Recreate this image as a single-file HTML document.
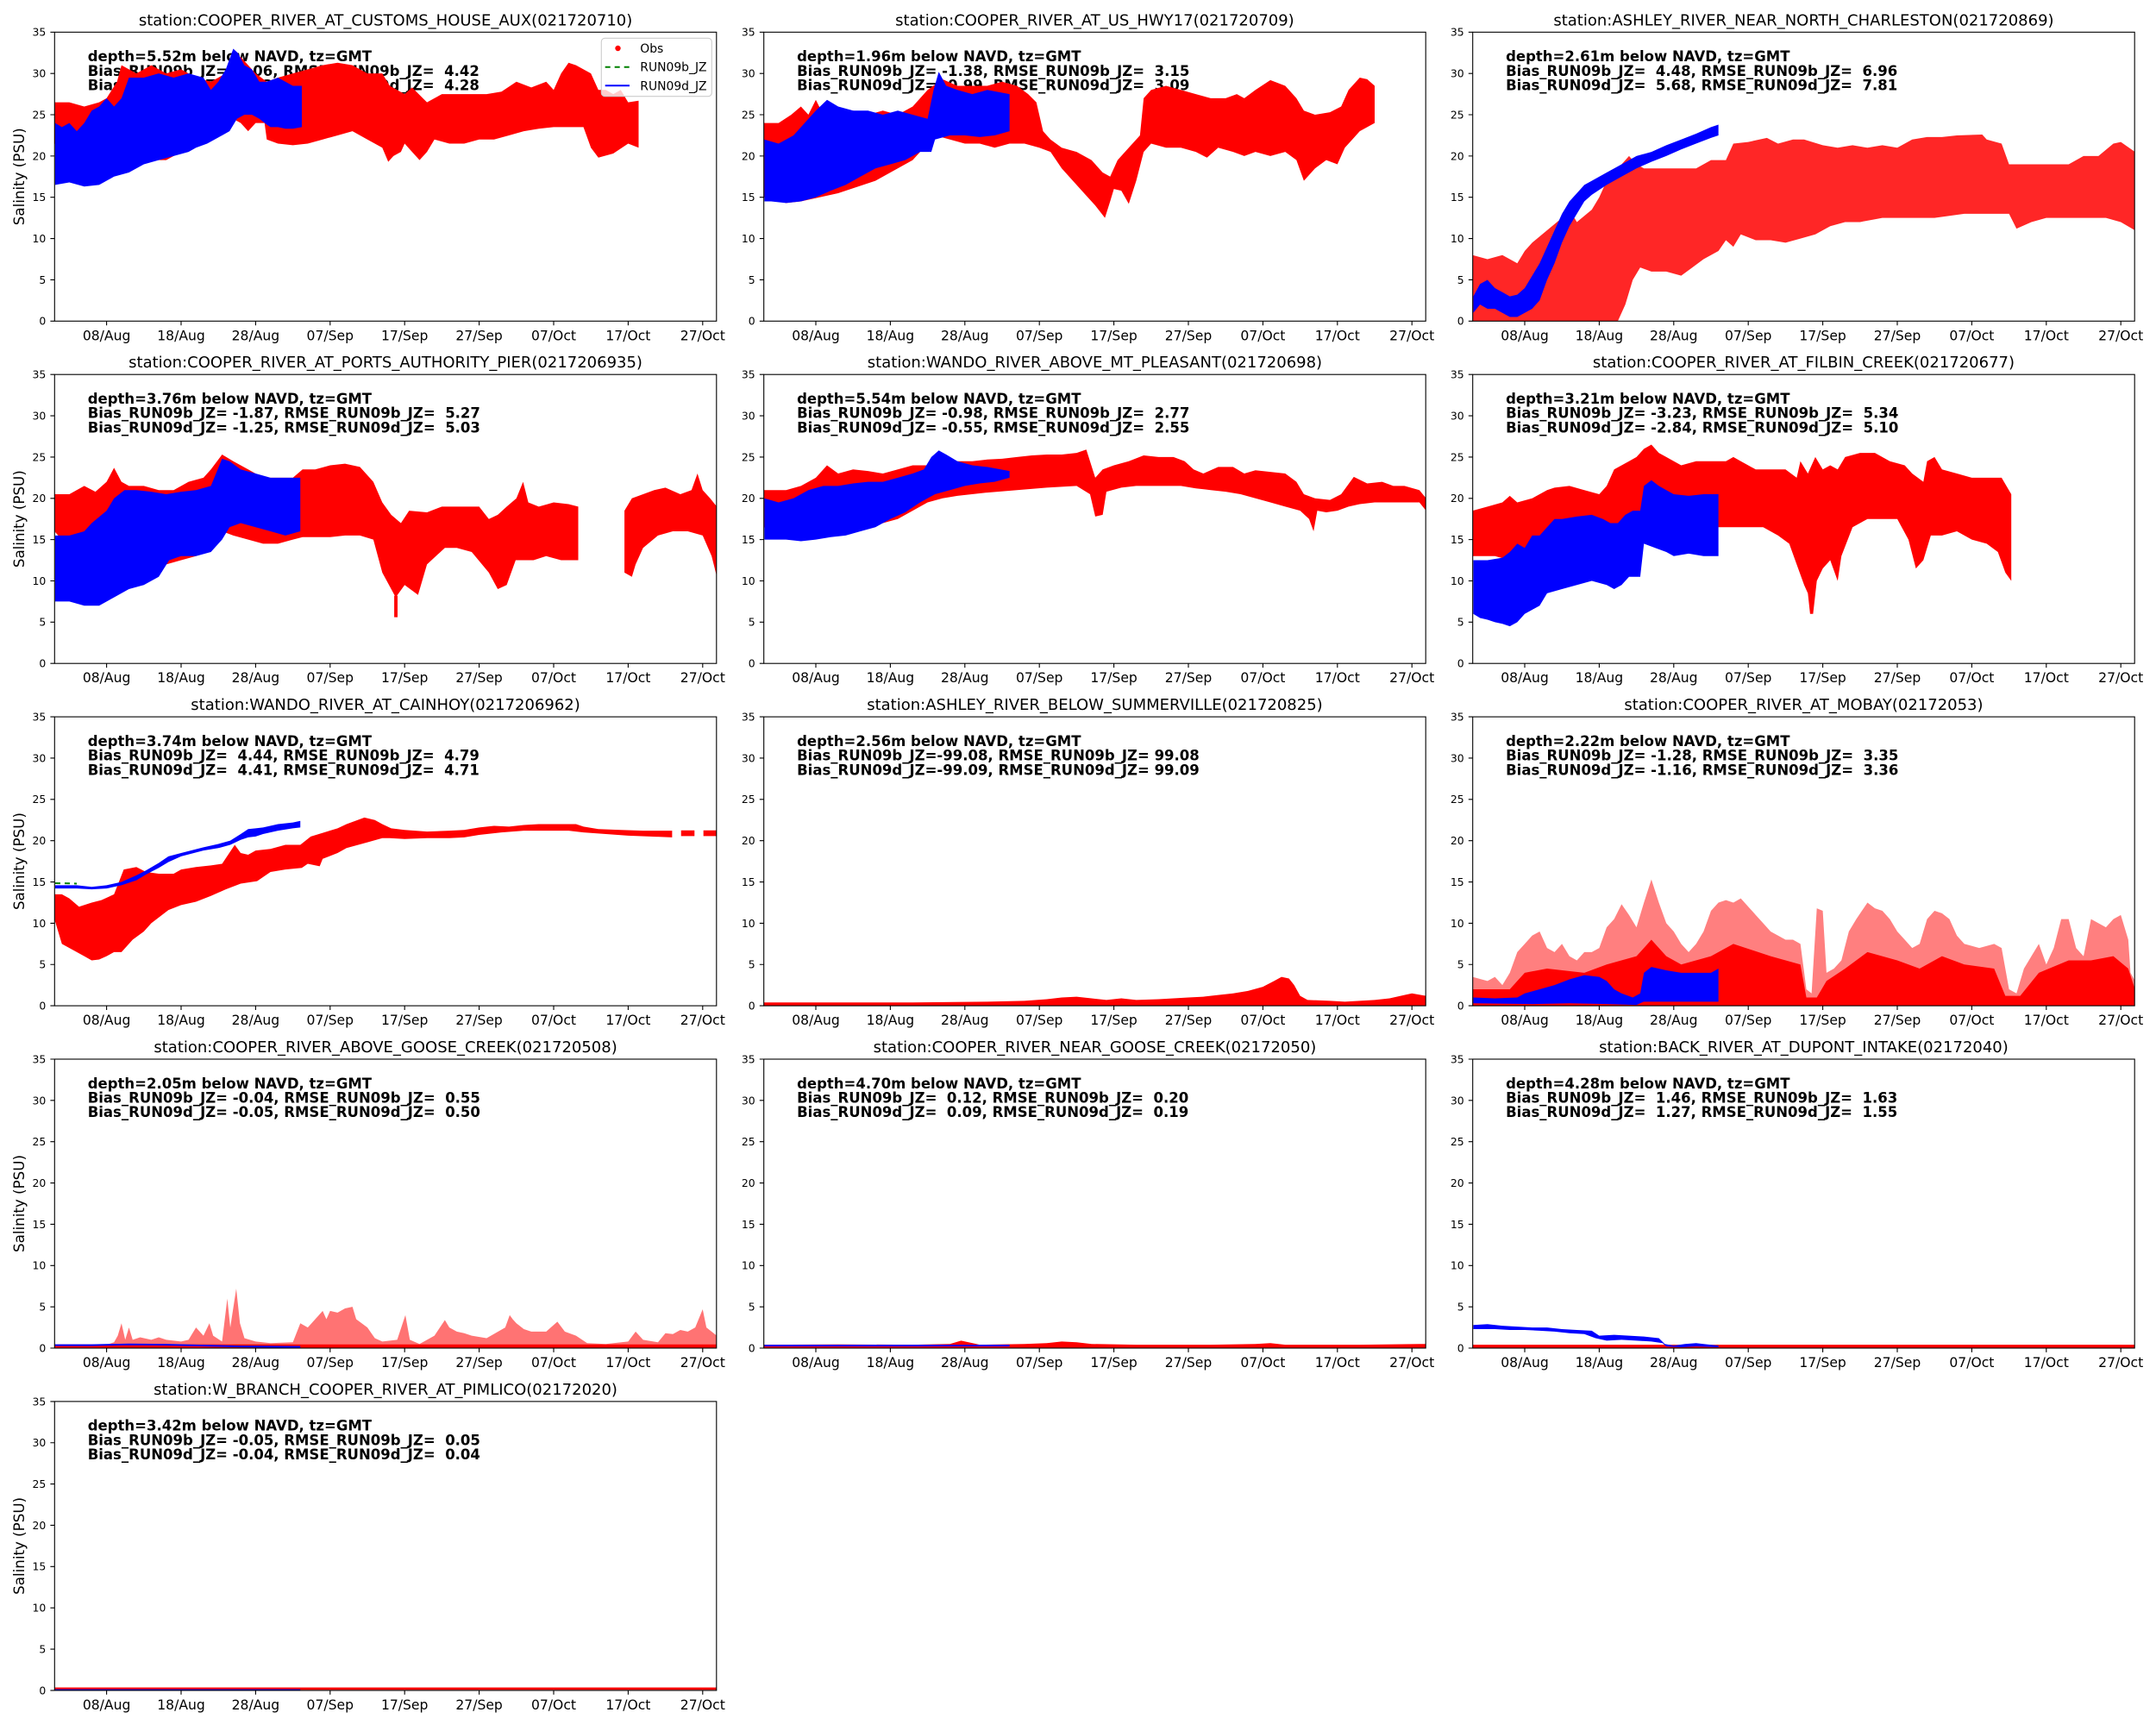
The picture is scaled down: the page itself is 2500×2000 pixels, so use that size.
<!DOCTYPE html>
<html><head><meta charset="utf-8">
<style>
html,body{margin:0;padding:0;background:#fff;}
svg{display:block;}
text{font-family:"DejaVu Sans","Liberation Sans",sans-serif;fill:#000;}
.o{fill:#ff0000;}
.b{fill:#0000ff;}
.bs{fill:#0000ff;}
.ax{fill:none;stroke:#000;stroke-width:1.1;}
.tk{fill:none;stroke:#000;stroke-width:1.1;}
.yt{font-size:12.4px;text-anchor:end;}
.xt{font-size:15.6px;text-anchor:middle;}
.ti{font-size:18px;text-anchor:middle;}
.an{font-size:16.5px;font-weight:bold;white-space:pre;}
.yl{font-size:16.7px;text-anchor:middle;}
.ln{fill:none;stroke:#0000ff;stroke-width:2;vector-effect:non-scaling-stroke;}
.gd{fill:none;stroke:#008000;stroke-width:2;stroke-dasharray:6,5;vector-effect:non-scaling-stroke;}
</style></head>
<body>
<svg xmlns="http://www.w3.org/2000/svg" width="2500" height="2000" viewBox="0 0 2500 2000">
<defs>
<clipPath id="k1"><rect x="63.3" y="37.3" width="767.5" height="335"/></clipPath>
<clipPath id="k2"><rect x="885.7" y="37.3" width="767.5" height="335"/></clipPath>
<clipPath id="k3"><rect x="1707.7" y="37.3" width="767.5" height="335"/></clipPath>
<clipPath id="k4"><rect x="63.3" y="434.2" width="767.5" height="335"/></clipPath>
<clipPath id="k5"><rect x="885.7" y="434.2" width="767.5" height="335"/></clipPath>
<clipPath id="k6"><rect x="1707.7" y="434.2" width="767.5" height="335"/></clipPath>
<clipPath id="k7"><rect x="63.3" y="831.1" width="767.5" height="335"/></clipPath>
<clipPath id="k8"><rect x="885.7" y="831.1" width="767.5" height="335"/></clipPath>
<clipPath id="k9"><rect x="1707.7" y="831.1" width="767.5" height="335"/></clipPath>
<clipPath id="k10"><rect x="63.3" y="1228" width="767.5" height="335"/></clipPath>
<clipPath id="k11"><rect x="885.7" y="1228" width="767.5" height="335"/></clipPath>
<clipPath id="k12"><rect x="1707.7" y="1228" width="767.5" height="335"/></clipPath>
<clipPath id="k13"><rect x="63.3" y="1624.9" width="767.5" height="335"/></clipPath>
</defs>
<rect width="2500" height="2000" fill="#fff"/>

<!-- ===== Annotations (drawn under data) ===== -->
<g transform="translate(63.3,37.3)" class="an">
<text x="38.4" y="33.8" xml:space="preserve">depth=5.52m below NAVD, tz=GMT</text>
<text x="38.4" y="50.5" xml:space="preserve">Bias_RUN09b_JZ=  0.06, RMSE_RUN09b_JZ=  4.42</text>
<text x="38.4" y="67.2" xml:space="preserve">Bias_RUN09d_JZ=  0.53, RMSE_RUN09d_JZ=  4.28</text>
</g>
<g transform="translate(885.7,37.3)" class="an">
<text x="38.4" y="33.8" xml:space="preserve">depth=1.96m below NAVD, tz=GMT</text>
<text x="38.4" y="50.5" xml:space="preserve">Bias_RUN09b_JZ= -1.38, RMSE_RUN09b_JZ=  3.15</text>
<text x="38.4" y="67.2" xml:space="preserve">Bias_RUN09d_JZ= -0.99, RMSE_RUN09d_JZ=  3.09</text>
</g>
<g transform="translate(1707.7,37.3)" class="an">
<text x="38.4" y="33.8" xml:space="preserve">depth=2.61m below NAVD, tz=GMT</text>
<text x="38.4" y="50.5" xml:space="preserve">Bias_RUN09b_JZ=  4.48, RMSE_RUN09b_JZ=  6.96</text>
<text x="38.4" y="67.2" xml:space="preserve">Bias_RUN09d_JZ=  5.68, RMSE_RUN09d_JZ=  7.81</text>
</g>
<g transform="translate(63.3,434.2)" class="an">
<text x="38.4" y="33.8" xml:space="preserve">depth=3.76m below NAVD, tz=GMT</text>
<text x="38.4" y="50.5" xml:space="preserve">Bias_RUN09b_JZ= -1.87, RMSE_RUN09b_JZ=  5.27</text>
<text x="38.4" y="67.2" xml:space="preserve">Bias_RUN09d_JZ= -1.25, RMSE_RUN09d_JZ=  5.03</text>
</g>
<g transform="translate(885.7,434.2)" class="an">
<text x="38.4" y="33.8" xml:space="preserve">depth=5.54m below NAVD, tz=GMT</text>
<text x="38.4" y="50.5" xml:space="preserve">Bias_RUN09b_JZ= -0.98, RMSE_RUN09b_JZ=  2.77</text>
<text x="38.4" y="67.2" xml:space="preserve">Bias_RUN09d_JZ= -0.55, RMSE_RUN09d_JZ=  2.55</text>
</g>
<g transform="translate(1707.7,434.2)" class="an">
<text x="38.4" y="33.8" xml:space="preserve">depth=3.21m below NAVD, tz=GMT</text>
<text x="38.4" y="50.5" xml:space="preserve">Bias_RUN09b_JZ= -3.23, RMSE_RUN09b_JZ=  5.34</text>
<text x="38.4" y="67.2" xml:space="preserve">Bias_RUN09d_JZ= -2.84, RMSE_RUN09d_JZ=  5.10</text>
</g>
<g transform="translate(63.3,831.1)" class="an">
<text x="38.4" y="33.8" xml:space="preserve">depth=3.74m below NAVD, tz=GMT</text>
<text x="38.4" y="50.5" xml:space="preserve">Bias_RUN09b_JZ=  4.44, RMSE_RUN09b_JZ=  4.79</text>
<text x="38.4" y="67.2" xml:space="preserve">Bias_RUN09d_JZ=  4.41, RMSE_RUN09d_JZ=  4.71</text>
</g>
<g transform="translate(885.7,831.1)" class="an">
<text x="38.4" y="33.8" xml:space="preserve">depth=2.56m below NAVD, tz=GMT</text>
<text x="38.4" y="50.5" xml:space="preserve">Bias_RUN09b_JZ=-99.08, RMSE_RUN09b_JZ= 99.08</text>
<text x="38.4" y="67.2" xml:space="preserve">Bias_RUN09d_JZ=-99.09, RMSE_RUN09d_JZ= 99.09</text>
</g>
<g transform="translate(1707.7,831.1)" class="an">
<text x="38.4" y="33.8" xml:space="preserve">depth=2.22m below NAVD, tz=GMT</text>
<text x="38.4" y="50.5" xml:space="preserve">Bias_RUN09b_JZ= -1.28, RMSE_RUN09b_JZ=  3.35</text>
<text x="38.4" y="67.2" xml:space="preserve">Bias_RUN09d_JZ= -1.16, RMSE_RUN09d_JZ=  3.36</text>
</g>
<g transform="translate(63.3,1228)" class="an">
<text x="38.4" y="33.8" xml:space="preserve">depth=2.05m below NAVD, tz=GMT</text>
<text x="38.4" y="50.5" xml:space="preserve">Bias_RUN09b_JZ= -0.04, RMSE_RUN09b_JZ=  0.55</text>
<text x="38.4" y="67.2" xml:space="preserve">Bias_RUN09d_JZ= -0.05, RMSE_RUN09d_JZ=  0.50</text>
</g>
<g transform="translate(885.7,1228)" class="an">
<text x="38.4" y="33.8" xml:space="preserve">depth=4.70m below NAVD, tz=GMT</text>
<text x="38.4" y="50.5" xml:space="preserve">Bias_RUN09b_JZ=  0.12, RMSE_RUN09b_JZ=  0.20</text>
<text x="38.4" y="67.2" xml:space="preserve">Bias_RUN09d_JZ=  0.09, RMSE_RUN09d_JZ=  0.19</text>
</g>
<g transform="translate(1707.7,1228)" class="an">
<text x="38.4" y="33.8" xml:space="preserve">depth=4.28m below NAVD, tz=GMT</text>
<text x="38.4" y="50.5" xml:space="preserve">Bias_RUN09b_JZ=  1.46, RMSE_RUN09b_JZ=  1.63</text>
<text x="38.4" y="67.2" xml:space="preserve">Bias_RUN09d_JZ=  1.27, RMSE_RUN09d_JZ=  1.55</text>
</g>
<g transform="translate(63.3,1624.9)" class="an">
<text x="38.4" y="33.8" xml:space="preserve">depth=3.42m below NAVD, tz=GMT</text>
<text x="38.4" y="50.5" xml:space="preserve">Bias_RUN09b_JZ= -0.05, RMSE_RUN09b_JZ=  0.05</text>
<text x="38.4" y="67.2" xml:space="preserve">Bias_RUN09d_JZ= -0.04, RMSE_RUN09d_JZ=  0.04</text>
</g>

<!-- ===== DATA ===== -->
<!-- P1 -->
<g clip-path="url(#k1)"><g transform="translate(63.12,372.3) scale(8.64,-9.5714)">
<polygon class="o" points="0,26.5 2,26.5 4,26 6,26.5 7,27 8.4,29 9,31 11,30 13,31 15,30 17,30.5 19,29.5 21,29 23,30 25,32 27,30 28.5,29 30,29.5 32,30 34,30.5 36,31 38,31.3 40,31 42,30 44,30 45,28.5 47,27.5 48,28.3 50,26.5 52,27.5 54,27.5 56,27.5 58,27.5 60,27.8 62,29 64,28.3 66,29 67,28 68,30 69,31.3 70,31 71,30.5 72,30 73,28 74,28 75,27.5 76,28 77,26.5 78.4,26.7 78.4,21 77,21.5 75,20.3 73,19.8 72,21 71,23.5 69,23.5 67,23.5 65,23.3 63,23 61,22.5 59,22 57,22 55,21.5 53,21.5 51,22 50,20.5 49,19.5 48,20.5 47,21.5 46.5,20.5 45.5,20 44.8,19.3 44,21 42,22 40,23 38,22.5 36,22 34,21.5 32,21.3 30,21.5 28.5,22 28.2,24 27,24 26,23 25,24 23,25 22,24.5 21,23 19,22 17,20.5 15,19.5 13,19.5 11,20 9,19 8,20 6,20.5 4,20.5 2,21 0,21.5"/>
<polygon class="b" points="0.1,24 1,23.5 2,24 3,23 4,24 5,25.5 6,26 7,27 8,26 9,27 10,29.5 12,29.5 14,30 16,29.5 18,30 20,29.5 21,28 22,29 23,30.5 24,33 24.6,32.5 25.5,31 26.5,30.5 27.5,29 28.5,29 30,29.5 31,29 32,28.5 33.2,28.5 33.2,23.5 32,23.3 31,23.3 30,23.5 29,23.5 28.5,23.8 27.5,24.5 26.5,25 25.5,25 24.5,24.5 23.5,23 22.5,22.5 21.5,22 20.5,21.5 19,21 18,20.5 16,20 14,19.5 12,19 10,18 8,17.5 6,16.5 4,16.3 2,16.8 0.1,16.5"/>
</g></g>
<!-- P2 -->
<g clip-path="url(#k2)"><g transform="translate(885.52,372.3) scale(8.64,-9.5714)">
<polygon class="o" points="0,24 2,24 3.7,25 5,26 6,25 7,26.8 8,25 10,25.5 12,25.5 14,25 16,25.5 18,25 20,26 22,28 24,29.3 26,28.5 28,28.5 30,28.5 32,29 34,28.5 35.5,27.5 36.6,26.5 37.5,23 38.5,22 40,21 42,20.5 44,19.5 45.5,18 46.5,17.5 47.5,19.5 49,21 50.5,22.5 51,27 52,28 54,28.5 56,28 58,27.5 60,27 62,27 63.5,27.5 64.5,27 66,28 68,29.2 70,28.5 71.5,27 72.5,25.5 74,25 76,25.3 77.5,26 78.5,28 80,29.5 81,29.3 82,28.5 82,24 80,23 79,22 78,21 77,19 75.5,19.5 74,18.5 72.5,17 71.5,19.5 70,20.5 68,20 66,20.5 64.5,20 63,20.5 61,21 59.5,19.8 58,20.5 56,21 54,21 52,21.5 51,20.5 50,17 49,14.2 48,15.8 47,16 46.5,14.5 45.8,12.5 44.5,14 43,15.5 41.5,17 40,18.5 38.5,20.5 37,21 35,21.5 33,21.5 31,21 29,21.5 27,21.5 25,22 23,22.5 20,19.5 15,17 10,15.5 5,14.5 3,14.3 0,15"/>
<polygon class="b" points="0.1,22 2,21.5 4,22.5 5.5,24 7,25.5 8.5,26.8 10,26 12,25.5 14,25.5 16,25 18,25.5 20,25 22,24.5 22.8,28 23.5,30.2 24.5,28.5 26,28 28,27.5 30,28 33,27.5 33,23 31,22.5 29,22.3 27,22.5 25,22.5 23,22 22.5,20.5 21,20.5 19,19.5 17,19 15,18.5 13,17.5 11,16.5 9,15.8 7,15 5,14.5 3,14.3 1,14.5 0.1,14.5"/>
</g></g>
<!-- P3 -->
<g clip-path="url(#k3)"><g transform="translate(1707.52,372.3) scale(8.64,-9.5714)">
<polygon class="o" fill-opacity="0.85" points="0,8 2,7.5 4,8 6,7 7,8.5 8,9.5 10,11 12,12.5 13,13.5 14,12 16,13.5 17,15 18,17 19,17.5 20,19 21,20 22,19 23,18.5 24,18.5 26,18.5 28,18.5 30,18.5 32,19.5 34,19.5 35,21.5 37,21.7 39.5,22.2 41,21.5 43,22 44.5,22 47,21.3 49,21 51,21.3 53,21 55,21.3 57,21 59,22 61,22.3 63,22.3 65,22.5 68.4,22.6 69,22 71,21.5 72,19 74,19 76,19 78,19 80,19 82,20 84,20 86,21.5 87,21.7 88.9,20.5 88.9,11 87,12 85,12.5 83,12.5 81,12.5 79,12.5 77,12.5 75,12 73,11.2 72,13 70,13 66,13 62,12.5 58,12.5 55,12.5 52,12 50,12 48,11.5 46,10.5 44,10 42,9.5 40,9.8 38,9.8 36,10.5 35,9 34,9.8 33,8.5 31,7.5 29.5,6.5 28,5.5 26,6 24,6 22.5,6.5 21.5,5 20.5,2 19.5,0 0,0"/>
<polygon class="b" points="0.1,3 1,4.5 2,5 3,4 4,3.5 5,3 6,3.2 7,4 8,5.5 9,7 10,9 11,11 12,13 13,14.5 14,15.5 15,16.5 16,17 18,18 20,19 22,20 24,20.5 26,21.3 28,22 30,22.7 32,23.5 33,23.8 33,22.5 32,22.2 30,21.5 28,20.8 26,20 24,19.3 22,18.5 20,17.5 18,16.5 16,15.3 15,14.5 14,13 13,11.5 12,9.5 11,7 10,5 9,2.5 8,1.5 7,1 6,0.5 5,0.5 4,1 3,1.5 2,1.5 1,2 0.1,1"/>
</g></g>
<!-- P4 -->
<g clip-path="url(#k4)"><g transform="translate(63.12,769.2) scale(8.64,-9.5714)">
<polygon class="o" points="0,20.5 2,20.5 4,21.5 5.5,20.8 7,22 8,23.7 9,22 10,21.5 12,21.5 14,21 16,21 18,22 20,22.5 21,23.5 22.5,25.3 24,24.5 26,23.5 28,22.5 30,22.5 32,22.5 33.3,23.5 35,23.5 37,24 39,24.2 41,23.8 42.8,22 44,19.5 45.2,18 46.5,17 47.6,18.5 50,18.3 52,19 55,19 57,19 58.3,17.5 59.5,18 60.7,19 62,20 62.9,22 63.6,19.5 65,19 67,19.5 69,19.3 70.3,19 70.3,12.5 68,12.5 66,13 64.3,12.5 62.5,12.5 61.9,12.5 60.7,9.5 59.5,9 58.3,11 56,13.5 54,14 52.4,14 50,12 48.8,8.3 47,9.5 45.8,8 45.2,9 44,11 42.8,15 41,15.5 39,15.5 37,15.3 35,15.3 33.3,15.3 32,15 30,14.5 28,14.5 26,15 24,15.5 22.5,16 21,14 19,13 17,12.5 15,12 13,12 11,12.5 9,12.5 7,13.5 5,14 3,15 1,15 0,16"/>
<rect class="o" x="45.6" y="5.6" width="0.45" height="2.6"/>
<polygon class="o" points="76.5,18.5 77.5,20 79,20.5 80.5,21 82,21.3 84,20.5 85.5,21 86.3,23 87,21 88,20 88.9,19 88.9,10.5 88.2,13 87,15.5 85,16 83,16 81,15.5 79,14 78,12 77.5,10.5 76.5,11"/>
<polygon class="b" points="0.1,15.5 2,15.5 4,16 5,17 7,18.5 8,20 9.4,21 11,21 13,20.8 15,20.5 17,20.8 19,21 21,21.5 22.5,24.8 23.5,24.5 25,23.5 27,23 29,22.5 31,22.5 33,22.5 33,16 31,15.5 29,16 27,16.5 25,17 23.5,16.5 22.5,15 21,13.5 19,13 17,13 15.4,12.5 14,10.5 12,9.5 10,9 8,8 6,7 4,7 2,7.5 0.1,7.5"/>
</g></g>
<!-- P5 -->
<g clip-path="url(#k5)"><g transform="translate(885.52,769.2) scale(8.64,-9.5714)">
<polygon class="o" points="0,21 3,21 5,21.5 7,22.5 8.5,24 10,23 12,23.5 14,23.3 16,23 18,23.5 20,24 22,24 24,24.3 26,24.5 28,24.5 30,24.7 32,24.8 34,25 36,25.2 38,25.3 40,25.3 42,25.5 43.3,25.9 44.5,22.5 45.5,23.5 47,24 49,24.5 51,25.2 53,25 55,25 56.5,24.5 57.7,23.5 59,23 61,23.8 63,23.8 64.5,23 66,23.4 68,23.2 70,23 71.5,22 72.5,20.5 74,20 76,19.8 77.5,20.5 79.2,22.6 81,21.8 83,22 84.5,21.5 86,21.5 88,21 88.9,20 88.9,18.5 88,19.5 86,19.5 84,19.5 82,19.5 80,19.3 78.5,19 77,18.5 75.5,18.3 74.3,18.5 73.8,16 73.2,17.5 72,18.5 70,19 68,19.5 66,20 64,20.5 62,20.8 60,21 58,21.2 56,21.5 54,21.5 52,21.5 50,21.5 48,21.3 46,20.8 45.5,18 44.5,17.8 43.8,20.5 42,21.5 38,21.3 34,21 30,20.7 26,20.3 24,20 22,19.5 20,18.5 18,17.5 16,17 14,16.5 12,16 10,15.5 8,15.3 6,15.5 4,16 2,16 0,16.5"/>
<polygon class="b" points="0.1,20 2,19.5 4,20 6,21 8,21.5 10,21.5 12,21.8 14,22 16,22 18,22.5 20,23 21.5,23.5 22.5,25 23.5,25.8 24.5,25.3 26,24.5 28,24 30,23.8 33,23.3 33,22.5 31,22 29,21.8 27,21.5 25,21 23,20.5 21,19.5 19,18.3 17,17.5 15,16.5 13,16 11,15.5 9,15.3 7,15 5,14.8 3,15 0.1,15"/>
</g></g>
<!-- P6 -->
<g clip-path="url(#k6)"><g transform="translate(1707.52,769.2) scale(8.64,-9.5714)">
<polygon class="o" points="0,18.5 2,19 4,19.5 5,20.3 6,19.5 8,20 10,21 11,21.3 13,21.5 15,21 17,20.5 18,21.5 19,23.5 20,24 21,24.5 22,25 23,26 24,26.5 25,25.5 26,25 28,24 30,24.5 32,24.5 34,24.5 35,25 36,24.5 38,23.5 40,23.5 42,23.5 43.5,22.5 44,24.5 45,23 46,25 47,23.5 48,24 49,23.5 50,25 52,25.5 54,25.5 56,24.5 58,24 59,23 60.5,22 61,24.5 62,25 63,23.5 65,23 67,22.5 69,22.5 71,22.5 72.3,20.5 72.3,10 71.5,11 70.5,13.5 69,14.5 67,15 65,16 63,15.5 61.5,15.5 60.5,12.5 59.5,11.5 58.5,15 57,17.5 55,17.5 53,17.5 51,16.5 49.5,13 49,10 48,12.5 47,11.5 46.2,10 45.7,6 45.3,6 45,8.5 44.5,9.5 43.5,12 42.5,14.5 41,15.5 39,16.5 37,16.5 35,16.5 33,16.5 31,16.5 29,16.3 27,16 25,15.5 23,15 21,13.5 19,12.5 17,12 15,11.5 13,11 11,11 9,11.5 7,12 5,12.5 3,13 0,13"/>
<polygon class="b" points="0.1,12.5 2,12.5 4,12.8 5,13.5 6,14.5 7,14 8,15.5 9,15.5 10,16.5 11,17.5 12,17.5 14,17.8 16,18 17.5,17.5 18.5,17 19.5,17 20.5,18 21.5,18.5 22.5,18.5 23,21.5 24,22.2 25,21.5 26,21 27,20.5 29,20.3 31,20.5 33,20.5 33,13 31,13 29,13.3 27,13 26,13.5 24.5,14 23,14.5 22.5,10.5 21,10.5 20,9.5 19,9 18,9.5 16,10 14,9.5 12,9 10,8.5 9,7 8,6.5 7,6 6,5 5,4.5 4,4.8 3,5 2,5.3 1,5.5 0.1,6"/>
</g></g>
<!-- P7 -->
<g clip-path="url(#k7)"><g transform="translate(63.12,1166.1) scale(8.64,-9.5714)">
<polygon class="o" points="0,13.5 1,13.5 2,13 3.3,12 5,12.5 6.3,12.8 8,13.5 9.3,16.5 11,16.8 12.3,16.2 14,16 16,16 17,16.5 19,16.8 21,17 22.5,17.2 24.2,19.5 25,18.5 26,18.3 27,18.8 29,19 31,19.5 33,19.5 34.4,20.5 36.2,21 38,21.5 39.2,22 41.6,22.8 43,22.5 44,22 45.2,21.5 47,21.3 50,21.1 53,21.2 55,21.3 57,21.6 59,21.8 61,21.7 63,21.9 65,22 67,22 69,22 70,22 71,21.7 73,21.4 76,21.3 79,21.2 81,21.2 82.9,21.2 82.9,20.4 80,20.5 77,20.6 74,20.8 71,21 69,21.2 66,21.2 63,21.2 60,21 57,20.7 55,20.4 53,20.3 50,20.3 47,20.2 45,20.3 44,20.3 42,19.8 39.2,19.1 38,18.5 36,17.8 35.6,16.9 34,17.2 33.2,16.7 31,16.5 29,16.2 27.2,15.1 25,14.8 23,14.1 21,13.3 19,12.6 17,12.2 15.3,11.6 13,10 12,9 10.5,8 9,6.5 8,6.5 7,6 6,5.6 5,5.5 4,6 3,6.5 2,7 1,7.5 0,10.5"/>
<polygon class="o" points="84.1,20.55 85.9,20.55 85.9,21.25 84.1,21.25"/>
<polygon class="o" points="87.1,20.55 89,20.55 89,21.25 87.1,21.25"/>
<polyline class="gd" points="0.1,14.85 3,14.8"/>
<polygon class="bs" points="0.1,14.6 3,14.6 5,14.4 7,14.6 9,15 11,15.8 12.3,16.4 14,17.3 15.3,18.1 17,18.5 20,19.2 22,19.6 23.6,20 25,20.8 26,21.4 27,21.5 28,21.6 30,22 32,22.2 33,22.4 33,21.6 32,21.5 30,21.2 28,20.8 27,20.5 26,20.4 25,20.1 23.6,19.5 22,19.1 20,18.8 17,18.1 15.3,17.4 14,16.7 12.3,15.9 11,15.2 9,14.6 7,14.2 5,14.1 3,14.2 0.1,14.2"/>
</g></g>
<!-- P8 -->
<g clip-path="url(#k8)"><g transform="translate(885.52,1166.1) scale(8.64,-9.5714)">
<polygon class="o" points="0,0.4 10,0.4 20,0.4 30,0.5 35,0.6 38,0.8 40,1.0 42,1.1 44,0.9 46,0.7 48,0.9 50,0.7 53,0.8 55,0.9 57,1.0 59,1.1 61,1.3 63,1.5 65,1.8 67,2.3 68.5,3.0 69.5,3.5 70.5,3.3 71.2,2.5 72,1.2 73,0.7 76,0.6 78,0.5 80,0.6 82,0.7 84,0.9 86,1.3 87,1.5 88.9,1.2 88.9,0 0,0"/>
</g></g>
<!-- P9 -->
<g clip-path="url(#k9)"><g transform="translate(1707.52,1166.1) scale(8.64,-9.5714)">
<polygon class="o" fill-opacity="0.5" points="0,3.5 2,3 3,3.5 4,2.5 5,4 6,6.5 7,7.5 8,8.5 9,9 10,7 11,6.5 12,7.5 13,6 14,5.5 15,6.5 16,6.5 17,7 18,9.5 19,10.5 20,12.3 21,11 22,9.5 23,12.5 24,15.3 25,12.5 26,10 27,9 28,7.5 29,6.5 30,7.5 31,9 32,11.5 33,12.5 34,12.8 35,12.5 36,13 37,12 38,11 39,10 40,9 41,8.5 42,8 43,8 44,7.5 44.8,2 45.5,1.5 46.2,11.8 47,11.5 47.5,4 48.5,4.5 49.5,5.5 50.5,9 51.5,10.5 53,12.5 54,11.8 55,11.5 56,10.5 57,9 58,8 59,7 60,7.5 61,10.5 62,11.5 63,11.2 64,10.5 65,8.5 66,7.5 68,7 70,7.5 71,7 72,2 73,1.5 74,4.5 75,6 76,7.5 77,5 78,7 79,10.5 80,10.5 81,7 82,6 83,10.5 84,10 85,9.5 86,10.5 87,11 88,8 88.3,4 88.9,3 88.9,0 0,0"/>
<polygon class="o" points="0,2 5,2 7,4 10,4.5 15,4 18,5 22,6 24,8 26,6 28,5 32,6 35,7.5 40,6 44,5 44.8,1 46.2,1 47.5,3 50,4.5 53,6.5 57,5.5 60,4.5 63,6 66,5 70,4.5 71.5,1.2 73.5,1.2 76,4 80,5.5 83,5.5 86,6 88,4.5 88.9,2 88.9,0 0,0"/>
<polygon class="b" points="0.1,1 3,0.9 6,1 7,1.5 9,2 11,2.5 13,3.2 15,3.7 17,3.5 18,3 19,2 20,1.5 21.5,1 22.5,1.5 23,4 24,4.7 26,4.3 28,4 30,4 32,4 33,4.5 33,0.5 28,0.5 23,0.5 22,0.1 18,0.2 13,0.3 8,0.2 0.1,0.3"/>
</g></g>
<!-- P10 -->
<g clip-path="url(#k10)"><g transform="translate(63.12,1563) scale(8.64,-9.5714)">
<polygon class="o" fill-opacity="0.55" points="0,0.4 7,0.4 8,0.7 8.5,1.5 9,3 9.5,1 10,2.5 10.5,1 11.5,1.3 13,1 14,1.3 15,1 17,0.8 18,1 19,2.5 20,1.5 20.8,3 21.3,1.5 22.5,0.8 23.2,6 23.6,2.5 24.4,7.2 24.9,3 25.5,1.2 27,0.8 29,0.6 32,0.7 33,3 34,2.5 35,3.5 36,4.5 36.5,3.5 37,4.5 38,4.3 39,4.8 40,5 40.5,3.5 42,2.5 43,1.2 44,0.8 46,1 47.1,4 47.7,1 49,0.5 51,1.5 52.4,3.4 53,2.5 54,2 55,1.8 56,1.5 58,1.2 60.5,2.5 61.1,4 61.5,3.5 62,3 63,2.3 64,2 66,2 67.5,3.2 68.5,2 70,1.5 71.5,0.6 74,0.5 77,0.8 78,2 79,1 81,0.7 82,1.8 83,1.7 84,2.2 85,2 86,2.5 87,4.7 87.5,2.5 88.9,1.5 88.9,0 0,0"/>
<polygon class="o" points="0,0.45 88.9,0.45 88.9,0 0,0"/>
<polyline class="ln" points="0.1,0.35 5,0.35 10,0.45 15,0.4 20,0.3 25,0.2 33,0.15"/>
</g></g>
<!-- P11 -->
<g clip-path="url(#k11)"><g transform="translate(885.52,1563) scale(8.64,-9.5714)">
<polygon class="o" points="0,0.4 10,0.45 20,0.4 25,0.5 26.5,0.9 27.5,0.7 29,0.4 35,0.5 38,0.6 40,0.8 42,0.7 44,0.5 50,0.4 60,0.4 66,0.5 68,0.6 70,0.4 80,0.4 88,0.5 88.9,0.5 88.9,0 0,0"/>
<polyline class="ln" points="0.1,0.3 33,0.3"/>
</g></g>
<!-- P12 -->
<g clip-path="url(#k12)"><g transform="translate(1707.52,1563) scale(8.64,-9.5714)">
<polygon class="o" points="0,0.4 88.9,0.4 88.9,0 0,0"/>
<polygon class="b" points="0.1,2.8 2,2.9 4,2.7 6,2.6 8,2.5 10,2.5 12,2.3 14,2.2 16,2.1 17,1.5 19,1.6 21,1.5 23,1.4 25,1.2 25.8,0.5 27,0.3 28.5,0.5 30,0.6 31,0.5 33,0.3 33,0.1 30,0.2 28,0.1 26,0.2 25.5,0.6 24,0.8 22,0.9 20,1 18,0.9 16.5,1.2 15,1.7 13,1.8 11,2 9,2.1 7,2.2 5,2.2 3,2.3 0.1,2.3"/>
</g></g>
<!-- P13 -->
<g clip-path="url(#k13)"><g transform="translate(63.12,1959.9) scale(8.64,-9.5714)">
<polygon class="o" points="0,0.36 88.9,0.36 88.9,0.07 0,0.07"/>
<polyline class="ln" points="0.1,0.04 33,0.04"/>
</g></g>

<!-- ===== AXES ===== -->
<!-- P1 -->
<g transform="translate(63.3,37.3)">
<rect class="ax" width="767.5" height="335"/>
<path class="tk" d="M0 0h-4.9M0 47.86h-4.9M0 95.71h-4.9M0 143.57h-4.9M0 191.43h-4.9M0 239.29h-4.9M0 287.14h-4.9M0 335h-4.9M60.3 335v4.9M146.7 335v4.9M233.1 335v4.9M319.5 335v4.9M405.9 335v4.9M492.3 335v4.9M578.7 335v4.9M665.1 335v4.9M751.5 335v4.9"/>
<g class="yt"><text x="-10" y="4.4">35</text><text x="-10" y="52.3">30</text><text x="-10" y="100.1">25</text><text x="-10" y="148">20</text><text x="-10" y="195.8">15</text><text x="-10" y="243.7">10</text><text x="-10" y="291.5">5</text><text x="-10" y="339.4">0</text></g>
<g class="xt"><text x="60.3" y="357">08/Aug</text><text x="146.7" y="357">18/Aug</text><text x="233.1" y="357">28/Aug</text><text x="319.5" y="357">07/Sep</text><text x="405.9" y="357">17/Sep</text><text x="492.3" y="357">27/Sep</text><text x="578.7" y="357">07/Oct</text><text x="665.1" y="357">17/Oct</text><text x="751.5" y="357">27/Oct</text></g>
<text class="ti" x="383.75" y="-8">station:COOPER_RIVER_AT_CUSTOMS_HOUSE_AUX(021720710)</text>
</g>
<!-- P2 -->
<g transform="translate(885.7,37.3)">
<rect class="ax" width="767.5" height="335"/>
<path class="tk" d="M0 0h-4.9M0 47.86h-4.9M0 95.71h-4.9M0 143.57h-4.9M0 191.43h-4.9M0 239.29h-4.9M0 287.14h-4.9M0 335h-4.9M60.3 335v4.9M146.7 335v4.9M233.1 335v4.9M319.5 335v4.9M405.9 335v4.9M492.3 335v4.9M578.7 335v4.9M665.1 335v4.9M751.5 335v4.9"/>
<g class="yt"><text x="-10" y="4.4">35</text><text x="-10" y="52.3">30</text><text x="-10" y="100.1">25</text><text x="-10" y="148">20</text><text x="-10" y="195.8">15</text><text x="-10" y="243.7">10</text><text x="-10" y="291.5">5</text><text x="-10" y="339.4">0</text></g>
<g class="xt"><text x="60.3" y="357">08/Aug</text><text x="146.7" y="357">18/Aug</text><text x="233.1" y="357">28/Aug</text><text x="319.5" y="357">07/Sep</text><text x="405.9" y="357">17/Sep</text><text x="492.3" y="357">27/Sep</text><text x="578.7" y="357">07/Oct</text><text x="665.1" y="357">17/Oct</text><text x="751.5" y="357">27/Oct</text></g>
<text class="ti" x="383.75" y="-8">station:COOPER_RIVER_AT_US_HWY17(021720709)</text>
</g>
<!-- P3 -->
<g transform="translate(1707.7,37.3)">
<rect class="ax" width="767.5" height="335"/>
<path class="tk" d="M0 0h-4.9M0 47.86h-4.9M0 95.71h-4.9M0 143.57h-4.9M0 191.43h-4.9M0 239.29h-4.9M0 287.14h-4.9M0 335h-4.9M60.3 335v4.9M146.7 335v4.9M233.1 335v4.9M319.5 335v4.9M405.9 335v4.9M492.3 335v4.9M578.7 335v4.9M665.1 335v4.9M751.5 335v4.9"/>
<g class="yt"><text x="-10" y="4.4">35</text><text x="-10" y="52.3">30</text><text x="-10" y="100.1">25</text><text x="-10" y="148">20</text><text x="-10" y="195.8">15</text><text x="-10" y="243.7">10</text><text x="-10" y="291.5">5</text><text x="-10" y="339.4">0</text></g>
<g class="xt"><text x="60.3" y="357">08/Aug</text><text x="146.7" y="357">18/Aug</text><text x="233.1" y="357">28/Aug</text><text x="319.5" y="357">07/Sep</text><text x="405.9" y="357">17/Sep</text><text x="492.3" y="357">27/Sep</text><text x="578.7" y="357">07/Oct</text><text x="665.1" y="357">17/Oct</text><text x="751.5" y="357">27/Oct</text></g>
<text class="ti" x="383.75" y="-8">station:ASHLEY_RIVER_NEAR_NORTH_CHARLESTON(021720869)</text>
</g>
<!-- P4 -->
<g transform="translate(63.3,434.2)">
<rect class="ax" width="767.5" height="335"/>
<path class="tk" d="M0 0h-4.9M0 47.86h-4.9M0 95.71h-4.9M0 143.57h-4.9M0 191.43h-4.9M0 239.29h-4.9M0 287.14h-4.9M0 335h-4.9M60.3 335v4.9M146.7 335v4.9M233.1 335v4.9M319.5 335v4.9M405.9 335v4.9M492.3 335v4.9M578.7 335v4.9M665.1 335v4.9M751.5 335v4.9"/>
<g class="yt"><text x="-10" y="4.4">35</text><text x="-10" y="52.3">30</text><text x="-10" y="100.1">25</text><text x="-10" y="148">20</text><text x="-10" y="195.8">15</text><text x="-10" y="243.7">10</text><text x="-10" y="291.5">5</text><text x="-10" y="339.4">0</text></g>
<g class="xt"><text x="60.3" y="357">08/Aug</text><text x="146.7" y="357">18/Aug</text><text x="233.1" y="357">28/Aug</text><text x="319.5" y="357">07/Sep</text><text x="405.9" y="357">17/Sep</text><text x="492.3" y="357">27/Sep</text><text x="578.7" y="357">07/Oct</text><text x="665.1" y="357">17/Oct</text><text x="751.5" y="357">27/Oct</text></g>
<text class="ti" x="383.75" y="-8">station:COOPER_RIVER_AT_PORTS_AUTHORITY_PIER(0217206935)</text>
</g>
<!-- P5 -->
<g transform="translate(885.7,434.2)">
<rect class="ax" width="767.5" height="335"/>
<path class="tk" d="M0 0h-4.9M0 47.86h-4.9M0 95.71h-4.9M0 143.57h-4.9M0 191.43h-4.9M0 239.29h-4.9M0 287.14h-4.9M0 335h-4.9M60.3 335v4.9M146.7 335v4.9M233.1 335v4.9M319.5 335v4.9M405.9 335v4.9M492.3 335v4.9M578.7 335v4.9M665.1 335v4.9M751.5 335v4.9"/>
<g class="yt"><text x="-10" y="4.4">35</text><text x="-10" y="52.3">30</text><text x="-10" y="100.1">25</text><text x="-10" y="148">20</text><text x="-10" y="195.8">15</text><text x="-10" y="243.7">10</text><text x="-10" y="291.5">5</text><text x="-10" y="339.4">0</text></g>
<g class="xt"><text x="60.3" y="357">08/Aug</text><text x="146.7" y="357">18/Aug</text><text x="233.1" y="357">28/Aug</text><text x="319.5" y="357">07/Sep</text><text x="405.9" y="357">17/Sep</text><text x="492.3" y="357">27/Sep</text><text x="578.7" y="357">07/Oct</text><text x="665.1" y="357">17/Oct</text><text x="751.5" y="357">27/Oct</text></g>
<text class="ti" x="383.75" y="-8">station:WANDO_RIVER_ABOVE_MT_PLEASANT(021720698)</text>
</g>
<!-- P6 -->
<g transform="translate(1707.7,434.2)">
<rect class="ax" width="767.5" height="335"/>
<path class="tk" d="M0 0h-4.9M0 47.86h-4.9M0 95.71h-4.9M0 143.57h-4.9M0 191.43h-4.9M0 239.29h-4.9M0 287.14h-4.9M0 335h-4.9M60.3 335v4.9M146.7 335v4.9M233.1 335v4.9M319.5 335v4.9M405.9 335v4.9M492.3 335v4.9M578.7 335v4.9M665.1 335v4.9M751.5 335v4.9"/>
<g class="yt"><text x="-10" y="4.4">35</text><text x="-10" y="52.3">30</text><text x="-10" y="100.1">25</text><text x="-10" y="148">20</text><text x="-10" y="195.8">15</text><text x="-10" y="243.7">10</text><text x="-10" y="291.5">5</text><text x="-10" y="339.4">0</text></g>
<g class="xt"><text x="60.3" y="357">08/Aug</text><text x="146.7" y="357">18/Aug</text><text x="233.1" y="357">28/Aug</text><text x="319.5" y="357">07/Sep</text><text x="405.9" y="357">17/Sep</text><text x="492.3" y="357">27/Sep</text><text x="578.7" y="357">07/Oct</text><text x="665.1" y="357">17/Oct</text><text x="751.5" y="357">27/Oct</text></g>
<text class="ti" x="383.75" y="-8">station:COOPER_RIVER_AT_FILBIN_CREEK(021720677)</text>
</g>
<!-- P7 -->
<g transform="translate(63.3,831.1)">
<rect class="ax" width="767.5" height="335"/>
<path class="tk" d="M0 0h-4.9M0 47.86h-4.9M0 95.71h-4.9M0 143.57h-4.9M0 191.43h-4.9M0 239.29h-4.9M0 287.14h-4.9M0 335h-4.9M60.3 335v4.9M146.7 335v4.9M233.1 335v4.9M319.5 335v4.9M405.9 335v4.9M492.3 335v4.9M578.7 335v4.9M665.1 335v4.9M751.5 335v4.9"/>
<g class="yt"><text x="-10" y="4.4">35</text><text x="-10" y="52.3">30</text><text x="-10" y="100.1">25</text><text x="-10" y="148">20</text><text x="-10" y="195.8">15</text><text x="-10" y="243.7">10</text><text x="-10" y="291.5">5</text><text x="-10" y="339.4">0</text></g>
<g class="xt"><text x="60.3" y="357">08/Aug</text><text x="146.7" y="357">18/Aug</text><text x="233.1" y="357">28/Aug</text><text x="319.5" y="357">07/Sep</text><text x="405.9" y="357">17/Sep</text><text x="492.3" y="357">27/Sep</text><text x="578.7" y="357">07/Oct</text><text x="665.1" y="357">17/Oct</text><text x="751.5" y="357">27/Oct</text></g>
<text class="ti" x="383.75" y="-8">station:WANDO_RIVER_AT_CAINHOY(0217206962)</text>
</g>
<!-- P8 -->
<g transform="translate(885.7,831.1)">
<rect class="ax" width="767.5" height="335"/>
<path class="tk" d="M0 0h-4.9M0 47.86h-4.9M0 95.71h-4.9M0 143.57h-4.9M0 191.43h-4.9M0 239.29h-4.9M0 287.14h-4.9M0 335h-4.9M60.3 335v4.9M146.7 335v4.9M233.1 335v4.9M319.5 335v4.9M405.9 335v4.9M492.3 335v4.9M578.7 335v4.9M665.1 335v4.9M751.5 335v4.9"/>
<g class="yt"><text x="-10" y="4.4">35</text><text x="-10" y="52.3">30</text><text x="-10" y="100.1">25</text><text x="-10" y="148">20</text><text x="-10" y="195.8">15</text><text x="-10" y="243.7">10</text><text x="-10" y="291.5">5</text><text x="-10" y="339.4">0</text></g>
<g class="xt"><text x="60.3" y="357">08/Aug</text><text x="146.7" y="357">18/Aug</text><text x="233.1" y="357">28/Aug</text><text x="319.5" y="357">07/Sep</text><text x="405.9" y="357">17/Sep</text><text x="492.3" y="357">27/Sep</text><text x="578.7" y="357">07/Oct</text><text x="665.1" y="357">17/Oct</text><text x="751.5" y="357">27/Oct</text></g>
<text class="ti" x="383.75" y="-8">station:ASHLEY_RIVER_BELOW_SUMMERVILLE(021720825)</text>
</g>
<!-- P9 -->
<g transform="translate(1707.7,831.1)">
<rect class="ax" width="767.5" height="335"/>
<path class="tk" d="M0 0h-4.9M0 47.86h-4.9M0 95.71h-4.9M0 143.57h-4.9M0 191.43h-4.9M0 239.29h-4.9M0 287.14h-4.9M0 335h-4.9M60.3 335v4.9M146.7 335v4.9M233.1 335v4.9M319.5 335v4.9M405.9 335v4.9M492.3 335v4.9M578.7 335v4.9M665.1 335v4.9M751.5 335v4.9"/>
<g class="yt"><text x="-10" y="4.4">35</text><text x="-10" y="52.3">30</text><text x="-10" y="100.1">25</text><text x="-10" y="148">20</text><text x="-10" y="195.8">15</text><text x="-10" y="243.7">10</text><text x="-10" y="291.5">5</text><text x="-10" y="339.4">0</text></g>
<g class="xt"><text x="60.3" y="357">08/Aug</text><text x="146.7" y="357">18/Aug</text><text x="233.1" y="357">28/Aug</text><text x="319.5" y="357">07/Sep</text><text x="405.9" y="357">17/Sep</text><text x="492.3" y="357">27/Sep</text><text x="578.7" y="357">07/Oct</text><text x="665.1" y="357">17/Oct</text><text x="751.5" y="357">27/Oct</text></g>
<text class="ti" x="383.75" y="-8">station:COOPER_RIVER_AT_MOBAY(02172053)</text>
</g>
<!-- P10 -->
<g transform="translate(63.3,1228)">
<rect class="ax" width="767.5" height="335"/>
<path class="tk" d="M0 0h-4.9M0 47.86h-4.9M0 95.71h-4.9M0 143.57h-4.9M0 191.43h-4.9M0 239.29h-4.9M0 287.14h-4.9M0 335h-4.9M60.3 335v4.9M146.7 335v4.9M233.1 335v4.9M319.5 335v4.9M405.9 335v4.9M492.3 335v4.9M578.7 335v4.9M665.1 335v4.9M751.5 335v4.9"/>
<g class="yt"><text x="-10" y="4.4">35</text><text x="-10" y="52.3">30</text><text x="-10" y="100.1">25</text><text x="-10" y="148">20</text><text x="-10" y="195.8">15</text><text x="-10" y="243.7">10</text><text x="-10" y="291.5">5</text><text x="-10" y="339.4">0</text></g>
<g class="xt"><text x="60.3" y="357">08/Aug</text><text x="146.7" y="357">18/Aug</text><text x="233.1" y="357">28/Aug</text><text x="319.5" y="357">07/Sep</text><text x="405.9" y="357">17/Sep</text><text x="492.3" y="357">27/Sep</text><text x="578.7" y="357">07/Oct</text><text x="665.1" y="357">17/Oct</text><text x="751.5" y="357">27/Oct</text></g>
<text class="ti" x="383.75" y="-8">station:COOPER_RIVER_ABOVE_GOOSE_CREEK(021720508)</text>
</g>
<!-- P11 -->
<g transform="translate(885.7,1228)">
<rect class="ax" width="767.5" height="335"/>
<path class="tk" d="M0 0h-4.9M0 47.86h-4.9M0 95.71h-4.9M0 143.57h-4.9M0 191.43h-4.9M0 239.29h-4.9M0 287.14h-4.9M0 335h-4.9M60.3 335v4.9M146.7 335v4.9M233.1 335v4.9M319.5 335v4.9M405.9 335v4.9M492.3 335v4.9M578.7 335v4.9M665.1 335v4.9M751.5 335v4.9"/>
<g class="yt"><text x="-10" y="4.4">35</text><text x="-10" y="52.3">30</text><text x="-10" y="100.1">25</text><text x="-10" y="148">20</text><text x="-10" y="195.8">15</text><text x="-10" y="243.7">10</text><text x="-10" y="291.5">5</text><text x="-10" y="339.4">0</text></g>
<g class="xt"><text x="60.3" y="357">08/Aug</text><text x="146.7" y="357">18/Aug</text><text x="233.1" y="357">28/Aug</text><text x="319.5" y="357">07/Sep</text><text x="405.9" y="357">17/Sep</text><text x="492.3" y="357">27/Sep</text><text x="578.7" y="357">07/Oct</text><text x="665.1" y="357">17/Oct</text><text x="751.5" y="357">27/Oct</text></g>
<text class="ti" x="383.75" y="-8">station:COOPER_RIVER_NEAR_GOOSE_CREEK(02172050)</text>
</g>
<!-- P12 -->
<g transform="translate(1707.7,1228)">
<rect class="ax" width="767.5" height="335"/>
<path class="tk" d="M0 0h-4.9M0 47.86h-4.9M0 95.71h-4.9M0 143.57h-4.9M0 191.43h-4.9M0 239.29h-4.9M0 287.14h-4.9M0 335h-4.9M60.3 335v4.9M146.7 335v4.9M233.1 335v4.9M319.5 335v4.9M405.9 335v4.9M492.3 335v4.9M578.7 335v4.9M665.1 335v4.9M751.5 335v4.9"/>
<g class="yt"><text x="-10" y="4.4">35</text><text x="-10" y="52.3">30</text><text x="-10" y="100.1">25</text><text x="-10" y="148">20</text><text x="-10" y="195.8">15</text><text x="-10" y="243.7">10</text><text x="-10" y="291.5">5</text><text x="-10" y="339.4">0</text></g>
<g class="xt"><text x="60.3" y="357">08/Aug</text><text x="146.7" y="357">18/Aug</text><text x="233.1" y="357">28/Aug</text><text x="319.5" y="357">07/Sep</text><text x="405.9" y="357">17/Sep</text><text x="492.3" y="357">27/Sep</text><text x="578.7" y="357">07/Oct</text><text x="665.1" y="357">17/Oct</text><text x="751.5" y="357">27/Oct</text></g>
<text class="ti" x="383.75" y="-8">station:BACK_RIVER_AT_DUPONT_INTAKE(02172040)</text>
</g>
<!-- P13 -->
<g transform="translate(63.3,1624.9)">
<rect class="ax" width="767.5" height="335"/>
<path class="tk" d="M0 0h-4.9M0 47.86h-4.9M0 95.71h-4.9M0 143.57h-4.9M0 191.43h-4.9M0 239.29h-4.9M0 287.14h-4.9M0 335h-4.9M60.3 335v4.9M146.7 335v4.9M233.1 335v4.9M319.5 335v4.9M405.9 335v4.9M492.3 335v4.9M578.7 335v4.9M665.1 335v4.9M751.5 335v4.9"/>
<g class="yt"><text x="-10" y="4.4">35</text><text x="-10" y="52.3">30</text><text x="-10" y="100.1">25</text><text x="-10" y="148">20</text><text x="-10" y="195.8">15</text><text x="-10" y="243.7">10</text><text x="-10" y="291.5">5</text><text x="-10" y="339.4">0</text></g>
<g class="xt"><text x="60.3" y="357">08/Aug</text><text x="146.7" y="357">18/Aug</text><text x="233.1" y="357">28/Aug</text><text x="319.5" y="357">07/Sep</text><text x="405.9" y="357">17/Sep</text><text x="492.3" y="357">27/Sep</text><text x="578.7" y="357">07/Oct</text><text x="665.1" y="357">17/Oct</text><text x="751.5" y="357">27/Oct</text></g>
<text class="ti" x="383.75" y="-8">station:W_BRANCH_COOPER_RIVER_AT_PIMLICO(02172020)</text>
</g>

<!-- Y labels -->
<text class="yl" transform="translate(28,204.8) rotate(-90)">Salinity (PSU)</text>
<text class="yl" transform="translate(28,601.7) rotate(-90)">Salinity (PSU)</text>
<text class="yl" transform="translate(28,998.6) rotate(-90)">Salinity (PSU)</text>
<text class="yl" transform="translate(28,1395.5) rotate(-90)">Salinity (PSU)</text>
<text class="yl" transform="translate(28,1792.4) rotate(-90)">Salinity (PSU)</text>

<!-- Legend -->
<rect x="697.3" y="44.3" width="128" height="67.4" rx="4" ry="4" fill="#ffffff" fill-opacity="0.8" stroke="#cccccc" stroke-width="1.1"/>
<circle cx="716.5" cy="56" r="3.2" fill="#ff0000"/>
<text x="742.3" y="60.8" font-size="13.9">Obs</text>
<line x1="701.7" y1="77.7" x2="730" y2="77.7" stroke="#008000" stroke-width="2" stroke-dasharray="6,5"/>
<text x="742.3" y="82.6" font-size="13.9">RUN09b_JZ</text>
<line x1="701.7" y1="99.3" x2="730" y2="99.3" stroke="#0000ff" stroke-width="2"/>
<text x="742.3" y="104.3" font-size="13.9">RUN09d_JZ</text>
</svg>
</body></html>
